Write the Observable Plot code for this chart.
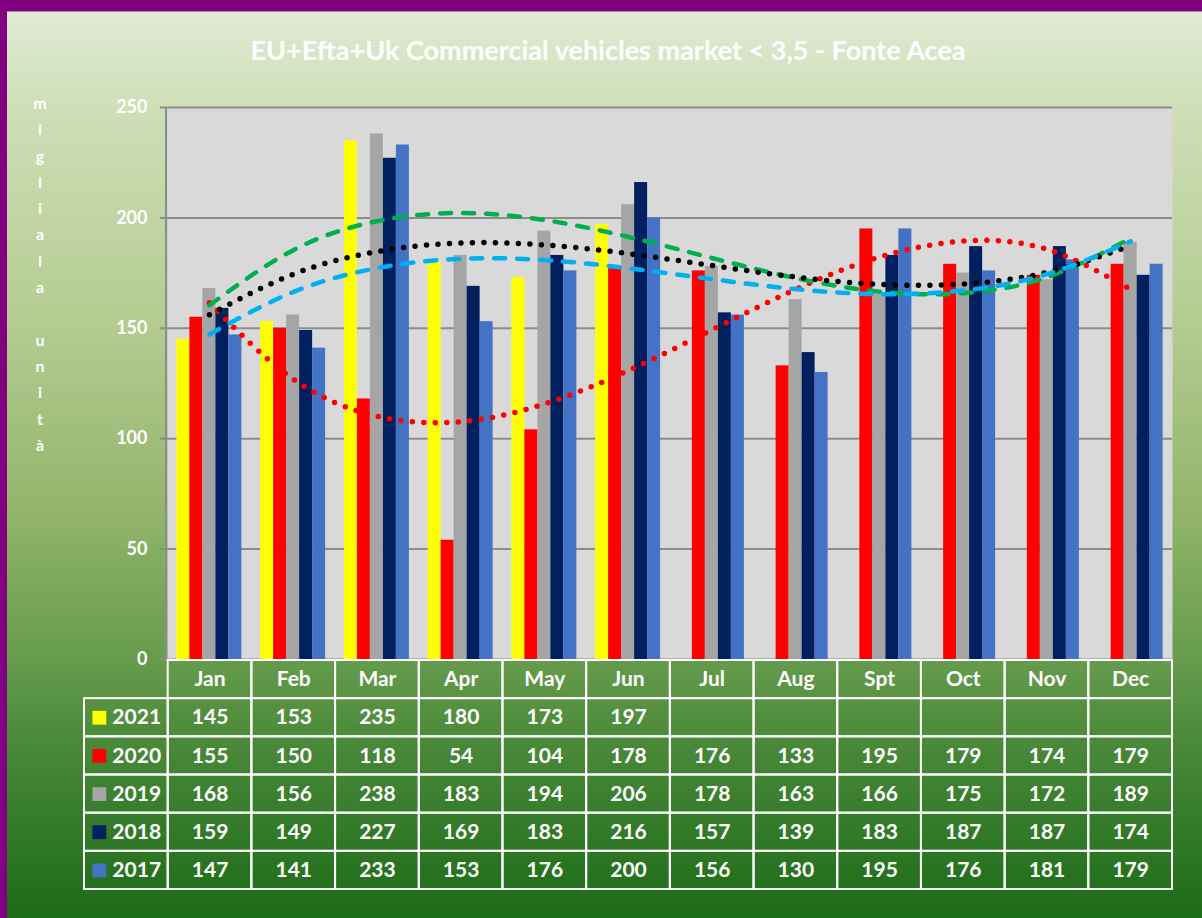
<!DOCTYPE html>
<html><head><meta charset="utf-8">
<script src="https://cdn.jsdelivr.net/npm/d3@7"></script>
<script src="https://cdn.jsdelivr.net/npm/@observablehq/plot@0.6"></script>
<style>
html,body{margin:0;padding:0;}
body{width:1202px;height:918px;overflow:hidden;background:#800080;font-family:Lato,sans-serif;position:relative;}
#panel{position:absolute;left:7px;top:11px;width:1195px;height:907px;border-top:1px solid #9a9a9a;
  background:linear-gradient(to bottom,#e0ead4 0%,#cfdfb8 10%,#b3cb90 35%,#92b56b 55%,#6a9e4f 70%,#4b8a3a 80%,#1b6b17 100%);}
#title{position:absolute;left:0;width:1216px;top:33px;text-align:center;color:#fff;font:700 27px Lato,sans-serif;}
#ylabel{position:absolute;left:30px;top:90px;width:20px;text-align:center;color:#fff;font:700 16px Lato,sans-serif;line-height:26.3px;}
.layer{position:absolute;left:0;top:0;}
#axisline{position:absolute;left:165px;top:107px;width:2px;height:553px;background:#8c8c8c;}
</style></head><body>
<div id="panel"></div>
<div id="title">EU+Efta+Uk Commercial vehicles market &lt; 3,5 - Fonte Acea</div>
<div id="ylabel"></div>
<div id="chart" class="layer"></div>
<div id="axisline"></div>
<div id="table" class="layer"></div>
<script>
// ---- data ----
const months = ["Jan","Feb","Mar","Apr","May","Jun","Jul","Aug","Spt","Oct","Nov","Dec"];
const years = ["2021","2020","2019","2018","2017"];
const v2021 = [145,153,235,180,173,197,null,null,null,null,null,null];
const v2020 = [155,150,118,54,104,178,176,133,195,179,174,179];
const v2019 = [168,156,238,183,194,206,178,163,166,175,172,189];
const v2018 = [159,149,227,169,183,216,157,139,183,187,187,174];
const v2017 = [147,141,233,153,176,200,156,130,195,176,181,179];
const yTicks = [0,50,100,150,200,250];
const yLabel = "migliaia unità";
const barColors = ["#FFFF00","#FF0000","#A5A5A5","#002060","#4472C4"];
const trendYears = ["2020","2019","2018","2017"];
const trendColors = ["#FF0000","#00B050","#000000","#00B0F0"];
const trendOrder = 3;

const series = {"2021": v2021, "2020": v2020, "2019": v2019, "2018": v2018, "2017": v2017};

// y label stacked letters
document.getElementById("ylabel").innerHTML = Array.from(yLabel).map(c => c === " " ? "&nbsp;" : c).join("<br>");

// polynomial least squares (trendline) computed from a series
function polyfit(ys, order) {
  const pts = ys.map((y, i) => [i + 1, y]).filter(p => p[1] != null);
  const n = order + 1;
  const A = Array.from({length: n}, () => new Array(n + 1).fill(0));
  for (const [x, y] of pts) {
    for (let r = 0; r < n; r++) {
      for (let c = 0; c < n; c++) A[r][c] += Math.pow(x, r + c);
      A[r][n] += y * Math.pow(x, r);
    }
  }
  for (let i = 0; i < n; i++) {
    let p = i;
    for (let k = i + 1; k < n; k++) if (Math.abs(A[k][i]) > Math.abs(A[p][i])) p = k;
    [A[i], A[p]] = [A[p], A[i]];
    for (let k = i + 1; k < n; k++) {
      const f = A[k][i] / A[i][i];
      for (let c = i; c <= n; c++) A[k][c] -= f * A[i][c];
    }
  }
  const coef = new Array(n).fill(0);
  for (let i = n - 1; i >= 0; i--) {
    let s = A[i][n];
    for (let c = i + 1; c < n; c++) s -= A[i][c] * coef[c];
    coef[i] = s / A[i][i];
  }
  return x => coef.reduce((s, a, k) => s + a * Math.pow(x, k), 0);
}

const W = 1202, H = 700;
const mL = 167, mR = 30, mT = 107, mB = H - 659;
const padIn = 0.224;
const bw = ((W - mL - mR) / months.length) * (1 - padIn) / years.length;

const barMarks = years.map((yr, j) =>
  Plot.barY(months.map((m, i) => ({month: m, year: yr, value: series[yr][i]})).filter(d => d.value != null), {
    x: "month", y: "value", fill: "year", insetLeft: j * bw, insetRight: (years.length - 1 - j) * bw
  })
);

const dashStyles = {
  "2020": {strokeWidth: 5.5, strokeDasharray: "0 11.5", strokeLinecap: "round"},
  "2019": {strokeWidth: 4.5, strokeDasharray: "11 12", strokeLinecap: "round"},
  "2018": {strokeWidth: 5.5, strokeDasharray: "0 11.5", strokeLinecap: "round"},
  "2017": {strokeWidth: 4.5, strokeDasharray: "11 12", strokeLinecap: "round"}
};

const trendMarks = trendYears.map((yr, k) => {
  const f = polyfit(series[yr], trendOrder);
  const pts = months.map((m, i) => ({month: m, value: f(i + 1)}));
  return Plot.line(pts, {x: "month", y: "value", stroke: trendColors[k], curve: "natural", ...dashStyles[yr]});
});

const chart = Plot.plot({
  width: W, height: H,
  marginLeft: mL, marginRight: mR, marginTop: mT, marginBottom: mB,
  style: {background: "transparent", fontFamily: "Lato, sans-serif", fontWeight: "bold", overflow: "visible"},
  x: {domain: months, paddingInner: padIn, paddingOuter: padIn / 2, round: false, axis: null},
  y: {domain: [0, 250], axis: null},
  color: {domain: years, range: barColors},
  marks: [
    Plot.frame({fill: "#d9d9d9", stroke: "none"}),
    Plot.gridY(yTicks, {stroke: "#8c8c8c", strokeOpacity: 1, strokeWidth: 2}),
    ...barMarks,
    ...trendMarks,
    Plot.axisY(yTicks, {label: null, tickSize: 7, tickPadding: 13, stroke: "#8c8c8c", strokeWidth: 2, fill: "white",
      fontSize: 18, fontWeight: "bold", fontFamily: "Lato, sans-serif", tickFormat: d => String(d)})
  ]
});
document.getElementById("chart").appendChild(chart);

// ---- data table ----
const legendCol = " ";
const headerRow = "hdr";
const cols = [legendCol, ...months];
const rows = [headerRow, ...years];
const cellData = [];
for (const r of rows) for (const c of cols) if (!(r === headerRow && c === legendCol)) cellData.push({row: r, col: c});
const headerData = months.map(m => ({row: headerRow, col: m, label: m}));
const valueData = [];
for (const yr of years) months.forEach((m, i) => { if (series[yr][i] != null) valueData.push({row: yr, col: m, label: String(series[yr][i])}); });

const textStyle = {fill: "white", fontSize: 21, fontWeight: "bold", fontFamily: "Lato, sans-serif"};
const table = Plot.plot({
  width: W, height: 918,
  marginLeft: 84, marginRight: 30, marginTop: 660, marginBottom: 918 - 889,
  style: {background: "transparent", overflow: "visible"},
  x: {domain: cols, padding: 0, round: false, axis: null},
  y: {domain: rows, padding: 0, round: false, axis: null},
  color: {domain: years, range: barColors},
  marks: [
    Plot.cell(cellData, {x: "col", y: "row", fill: "none", stroke: "white", strokeWidth: 2}),
    Plot.text(headerData, {x: "col", y: "row", text: "label", ...textStyle}),
    Plot.text(valueData, {x: "col", y: "row", text: "label", ...textStyle}),
    Plot.dot(years, {x: () => legendCol, y: d => d, fill: d => d, symbol: "square", r: 7.8, dx: -27}),
    Plot.text(years, {x: () => legendCol, y: d => d, text: d => d, textAnchor: "start", dx: -14, ...textStyle})
  ]
});
document.getElementById("table").appendChild(table);
</script>
</body></html>
